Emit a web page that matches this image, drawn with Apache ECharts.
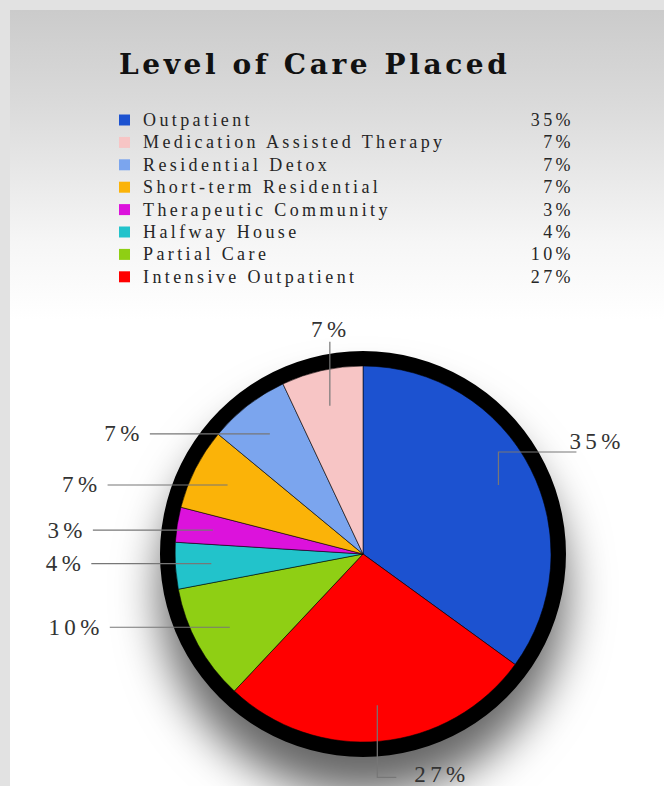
<!DOCTYPE html>
<html><head><meta charset="utf-8">
<script src="https://cdn.jsdelivr.net/npm/echarts@6/dist/echarts.min.js"></script>
<style>html,body{margin:0;padding:0;background:#e2e2e2;overflow:hidden}#c{width:664px;height:786px}</style>
</head><body><div id="c"></div>
<script>
// ---- data ----
const titleText = 'Level of Care Placed';
const categories = ['Outpatient','Medication Assisted Therapy','Residential Detox','Short-term Residential','Therapeutic Community','Halfway House','Partial Care','Intensive Outpatient'];
const percents = [35, 7, 7, 7, 3, 4, 10, 27];
// clockwise order of slices from 12 o'clock
const pieOrder = ['Outpatient','Intensive Outpatient','Partial Care','Halfway House','Therapeutic Community','Short-term Residential','Residential Detox','Medication Assisted Therapy'];

// ---- styles ----
const colors = {
  'Outpatient':'#1c52d0','Medication Assisted Therapy':'#f7c5c5','Residential Detox':'#7ba5ee',
  'Short-term Residential':'#fbb308','Therapeutic Community':'#dc12dc','Halfway House':'#22c3cb',
  'Partial Care':'#8fcf14','Intensive Outpatient':'#ff0000'
};
const labelSide = {
  'Outpatient':'right','Intensive Outpatient':'down','Partial Care':'left','Halfway House':'left',
  'Therapeutic Community':'left','Short-term Residential':'left','Residential Detox':'left','Medication Assisted Therapy':'up'
};
const CENTER = [363, 554];
const SERIF = "'Liberation Serif', 'Times New Roman', serif";

const pctOf = n => percents[categories.indexOf(n)];
const pieData = pieOrder.map(n => ({ name: n, value: pctOf(n), itemStyle: { color: colors[n] } }));
const labelData = pieOrder.map(n => ({ name: n, value: pctOf(n) }));

const chart = echarts.init(document.getElementById('c'), null, { renderer: 'svg' });
chart.setOption({
  backgroundColor: '#e2e2e2',
  animation: false,
  graphic: [{
    type: 'rect', left: 10, top: 10, z: -10, silent: true,
    shape: { width: 654, height: 776 },
    style: { fill: new echarts.graphic.LinearGradient(0, 0, 0, 1, [
      { offset: 0, color: '#cbcbcb' }, { offset: 0.12, color: '#dadada' },
      { offset: 0.3, color: '#f6f6f6' }, { offset: 0.4, color: '#ffffff' }, { offset: 1, color: '#ffffff' }
    ]) }
  }],
  title: {
    text: titleText, left: 114, top: 45,
    textStyle: { fontFamily: "'DejaVu Serif', serif", fontWeight: 'bold', fontSize: 28, color: '#111' }
  },
  legend: {
    orient: 'vertical', left: 114, top: 105, itemWidth: 11, itemHeight: 11, itemGap: 2.4,
    icon: 'rect', selectedMode: false, data: categories,
    itemStyle: { borderWidth: 0 },
    formatter: n => '{n|' + n + '}{p|' + pctOf(n) + '%}',
    textStyle: {
      fontFamily: SERIF, fontSize: 18, color: '#262626', lineHeight: 20,
      rich: {
        n: { width: 381, padding: [0, 0, 0, 8], fontFamily: SERIF, fontSize: 18, color: '#262626' },
        p: { width: 50, align: 'right', fontFamily: SERIF, fontSize: 18, color: '#262626' }
      }
    }
  },
  series: [
    { // black rim disc with drop shadow
      type: 'pie', name: 'rim', center: CENTER, radius: [0, 203], silent: true, z: 1,
      label: { show: false }, labelLine: { show: false }, emphasis: { disabled: true },
      itemStyle: { color: '#000', shadowColor: 'rgba(0,0,0,0.6)', shadowBlur: 45, shadowOffsetY: 38 },
      data: [{ value: 1, name: 'rim' }]
    },
    {
      type: 'pie', name: 'Level of Care', center: CENTER, radius: [0, 188], startAngle: 90, clockwise: true,
      z: 2, silent: true, emphasis: { disabled: true },
      label: { show: false }, labelLine: { show: false },
      itemStyle: { borderColor: 'rgba(0,0,0,0.55)', borderWidth: 1 },
      data: pieData
    },
    { // transparent copy that carries the percent labels, lines start inside slices
      type: 'pie', name: 'labels', center: CENTER, radius: [0, 152], startAngle: 90, clockwise: true,
      z: 3, silent: true, emphasis: { disabled: true },
      itemStyle: { color: 'rgba(0,0,0,0)', borderWidth: 0 },
      label: { show: true, position: 'outside', formatter: '{c}%', fontFamily: SERIF, fontSize: 23, color: '#333' },
      labelLine: { show: true, length: 10, length2: 10, lineStyle: { color: '#777', width: 1.2 } },
      labelLayout: function (p) {
        const name = pieOrder[p.dataIndex];
        const side = labelSide[name];
        const s = p.labelLinePoints[0];
        if (side === 'left') {
          const e = [s[0] - 120, s[1]];
          return { x: e[0] - 6, y: e[1], align: 'right', verticalAlign: 'middle', labelLinePoints: [s, e] };
        } else if (side === 'right') {
          const m = [s[0], s[1] - 33];
          const e = [s[0] + 78, s[1] - 33];
          return { x: e[0] - 7, y: e[1] + 1, align: 'left', verticalAlign: 'bottom', labelLinePoints: [s, m, e] };
        } else if (side === 'up') {
          const e = [s[0], s[1] - 64];
          return { x: e[0] + 1, y: e[1] - 1, align: 'center', verticalAlign: 'bottom', labelLinePoints: [s, e] };
        } else {
          const m = [s[0], s[1] + 72];
          const e = [s[0] + 19, s[1] + 72];
          return { x: e[0] + 18, y: e[1] - 3, align: 'left', verticalAlign: 'middle', labelLinePoints: [s, m, e] };
        }
      },
      data: labelData
    }
  ]
});

function spaceLetters() {
  document.querySelectorAll('#c svg text').forEach(t => {
    const fs = parseFloat(getComputedStyle(t).fontSize) || 0;
    let ls = 0;
    if (fs >= 26) ls = 3.6; else if (fs >= 21) ls = 4.4; else if (fs >= 17) ls = 3.4;
    t.style.letterSpacing = ls + 'px';
  });
}
chart.on('finished', spaceLetters);
spaceLetters();
</script></body></html>
